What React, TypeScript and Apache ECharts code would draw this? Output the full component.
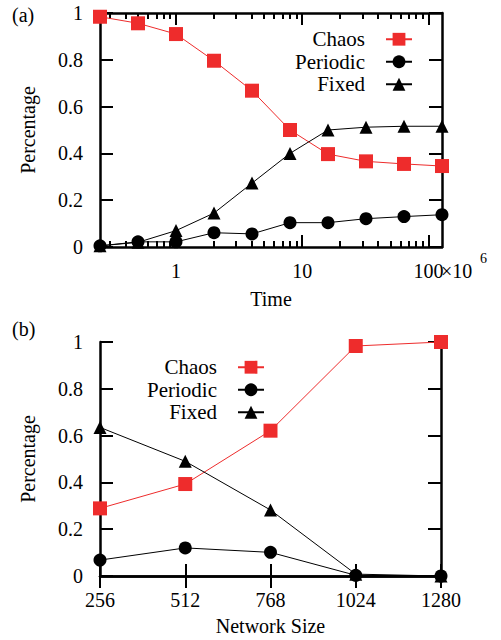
import React, { useEffect, useRef } from "react";
import * as echarts from "echarts";

const seriesNames = ["Chaos", "Periodic", "Fixed"];

const timeValues = [0.25, 0.5, 1, 2, 4, 8, 16, 32, 64, 128];
const chaosTime = [0.984, 0.956, 0.91, 0.796, 0.668, 0.5, 0.397, 0.366, 0.355, 0.346];
const periodicTime = [0.005, 0.022, 0.022, 0.061, 0.056, 0.104, 0.104, 0.121, 0.13, 0.138];
const fixedTime = [0.005, 0.02, 0.07, 0.145, 0.273, 0.4, 0.5, 0.512, 0.516, 0.516];

const networkSizes = [256, 512, 768, 1024, 1280];
const chaosSize = [0.289, 0.393, 0.621, 0.983, 1.0];
const periodicSize = [0.068, 0.12, 0.101, 0.003, 0];
const fixedSize = [0.635, 0.49, 0.282, 0.008, 0];

const timeMajorTicks = [1, 10, 100];
const timeMinorTicks = [0.3, 0.4, 0.5, 0.6, 0.7, 0.8, 0.9, 2, 3, 4, 5, 6, 7, 8, 9, 20, 30, 40, 50, 60, 70, 80, 90];

const FONT = "'Liberation Serif', 'Times New Roman', Times, serif";
const RED = "#ee2c2c";
const BLACK = "#000000";

function zip(xs: number[], ys: number[]) {
  return xs.map((x, i) => [x, ys[i]]);
}

export default function App() {
  const ref = useRef<HTMLDivElement>(null);

  useEffect(() => {
    if (!ref.current) return;
    const chart = echarts.init(ref.current, undefined, { renderer: "svg" });

    const axisLine = { show: true, lineStyle: { color: BLACK, width: 2.5 } };
    const noLine = { show: false };
    const label = { fontFamily: FONT, fontSize: 20, color: BLACK };
    const tick = (len: number, custom?: number[]) => ({
      show: true,
      inside: true,
      length: len,
      lineStyle: { color: BLACK, width: 2 },
      ...(custom ? { customValues: custom } : {}),
    });

    const logX = (extra: any) => ({
      type: "log",
      gridIndex: 0,
      min: 0.25,
      max: 128,
      logBase: 10,
      splitLine: { show: false },
      axisLabel: { show: false },
      ...extra,
    });

    const yAx = (gridIndex: number, position: string, showLabel: boolean, extra: any = {}) => ({
      type: "value",
      gridIndex,
      position,
      min: 0,
      max: 1,
      interval: 0.2,
      splitLine: { show: false },
      axisLine,
      axisTick: tick(13),
      axisLabel: showLabel ? { ...label, margin: 17, formatter: (v: number) => String(v) } : { show: false },
      ...extra,
    });

    const lineSeries = (name: string, data: number[][], xi: number, yi: number) => {
      const style: any = {
        Chaos: { symbol: "rect", symbolSize: 14, color: RED },
        Periodic: { symbol: "circle", symbolSize: 13, color: BLACK },
        Fixed: { symbol: "triangle", symbolSize: 13, color: BLACK },
      }[name];
      return {
        type: "line",
        name,
        data,
        xAxisIndex: xi,
        yAxisIndex: yi,
        symbol: style.symbol,
        symbolSize: style.symbolSize,
        showAllSymbol: true,
        clip: false,
        itemStyle: { color: style.color },
        lineStyle: { color: style.color, width: 1 },
        emphasis: { disabled: true },
      };
    };

    const legendBase = {
      data: seriesNames,
      orient: "vertical",
      align: "right",
      itemWidth: 26,
      itemHeight: 16,
      itemGap: 0,
      padding: 0,
      selectedMode: false,
      textStyle: { fontFamily: FONT, fontSize: 21, color: BLACK, lineHeight: 22.5, padding: [0, 16, 0, 0] },
    };

    chart.setOption({
      animation: false,
      textStyle: { fontFamily: FONT },
      grid: [
        { left: 100, right: 59, top: 13, height: 234 },
        { left: 100, right: 60, top: 342, height: 234 },
      ],
      xAxis: [
        logX({
          position: "bottom",
          axisLine,
          axisTick: tick(12, timeMajorTicks),
          axisLabel: { ...label, margin: 14, customValues: timeMajorTicks, formatter: (v: number) => String(v) },
          name: "Time",
          nameLocation: "middle",
          nameGap: 42,
          nameTextStyle: label,
        }),
        logX({ position: "bottom", axisLine: noLine, axisTick: tick(6, timeMinorTicks) }),
        logX({ position: "top", axisLine, axisTick: tick(12, timeMajorTicks) }),
        logX({ position: "top", axisLine: noLine, axisTick: tick(6, timeMinorTicks) }),
        {
          type: "value",
          gridIndex: 1,
          position: "bottom",
          min: 256,
          max: 1280,
          interval: 256,
          splitLine: { show: false },
          axisLine,
          axisTick: tick(12),
          axisLabel: { ...label, margin: 14, formatter: (v: number) => String(v) },
          name: "Network Size",
          nameLocation: "middle",
          nameGap: 40,
          nameTextStyle: label,
        },
        {
          type: "value",
          gridIndex: 1,
          position: "top",
          min: 256,
          max: 1280,
          interval: 256,
          splitLine: { show: false },
          axisLine,
          axisTick: tick(12),
          axisLabel: { show: false },
        },
      ],
      yAxis: [
        yAx(0, "left", true, { name: "Percentage", nameLocation: "middle", nameGap: 62, nameTextStyle: label }),
        yAx(0, "right", false),
        yAx(1, "left", true, { name: "Percentage", nameLocation: "middle", nameGap: 62, nameTextStyle: label }),
        yAx(1, "right", false),
      ],
      legend: [
        { ...legendBase, right: 88, top: 28 },
        { ...legendBase, right: 236, top: 356 },
      ],
      graphic: [
        { type: "text", left: 12, top: 5, style: { text: "(a)", fontFamily: FONT, fontSize: 20, fill: BLACK } },
        { type: "text", left: 12, top: 319, style: { text: "(b)", fontFamily: FONT, fontSize: 20, fill: BLACK } },
        { type: "text", x: 441, y: 271, style: { text: "×10", fontFamily: FONT, fontSize: 20, fill: BLACK, verticalAlign: "middle" } },
        { type: "text", x: 480, y: 258, style: { text: "6", fontFamily: FONT, fontSize: 14, fill: BLACK, verticalAlign: "middle" } },
      ],
      series: [
        lineSeries("Chaos", zip(timeValues, chaosTime), 0, 0),
        lineSeries("Periodic", zip(timeValues, periodicTime), 0, 0),
        lineSeries("Fixed", zip(timeValues, fixedTime), 0, 0),
        lineSeries("Chaos", zip(networkSizes, chaosSize), 4, 2),
        lineSeries("Periodic", zip(networkSizes, periodicSize), 4, 2),
        lineSeries("Fixed", zip(networkSizes, fixedSize), 4, 2),
      ],
    });

    return () => chart.dispose();
  }, []);

  return <div ref={ref} style={{ position: "absolute", left: 0, top: 0, width: 501, height: 640, background: "#fff" }} />;
}
